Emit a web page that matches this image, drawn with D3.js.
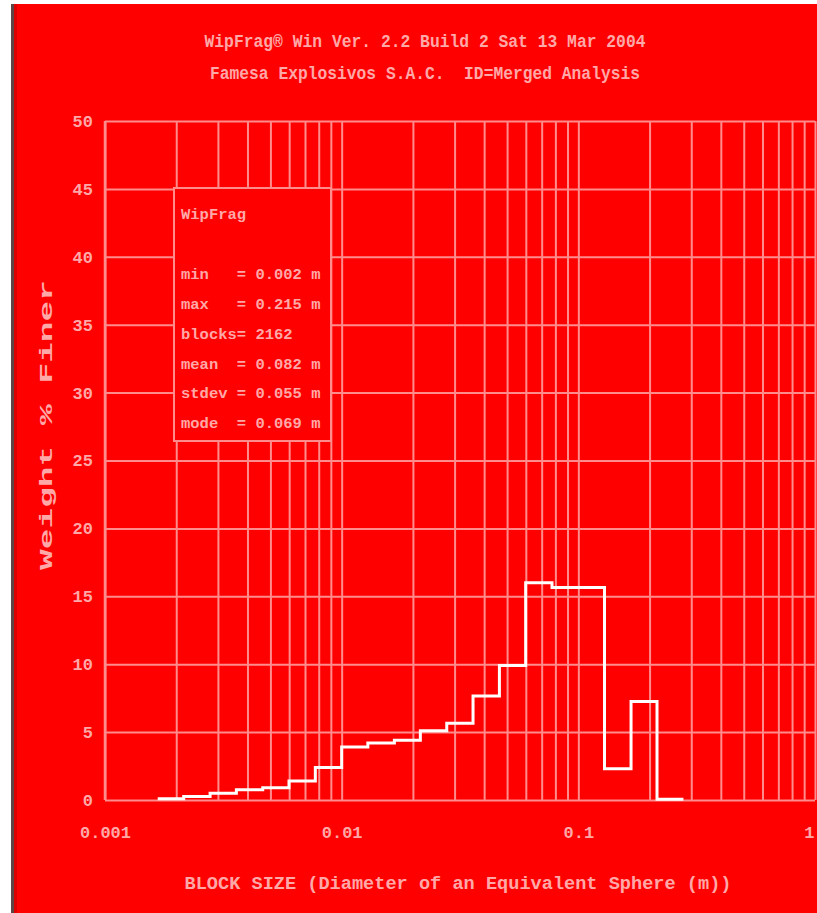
<!DOCTYPE html>
<html>
<head>
<meta charset="utf-8">
<script src="https://cdn.jsdelivr.net/npm/d3@7"></script>
<style>
  html, body { margin: 0; padding: 0; background: #fff; }
  #chart { width: 817px; height: 913px; }
  text { font-family: "Liberation Mono", "DejaVu Sans Mono", monospace; font-weight: bold; fill: #ffa8a8; white-space: pre; }
</style>
</head>
<body>
<div id="chart"></div>
<script>
// Size class edges (m) and % weight in each class
const binEdges = [0.00167, 0.00215, 0.00278, 0.00359, 0.00464, 0.00599, 0.00774, 0.01,
    0.0129, 0.0167, 0.0215, 0.0278, 0.0359, 0.0464, 0.0599, 0.0774, 0.1, 0.129, 0.167, 0.215, 0.278];
const binValues = [0.1, 0.25, 0.5, 0.75, 0.9, 1.4, 2.4, 3.9, 4.2, 4.4, 5.1, 5.65, 7.65, 9.9,
    16.0, 15.65, 15.65, 2.3, 7.25, 0.05];

const yTicks = [0, 5, 10, 15, 20, 25, 30, 35, 40, 45, 50];
const xLabels = [0.001, 0.01, 0.1, 1];

const titleLines = ["WipFrag® Win Ver. 2.2 Build 2 Sat 13 Mar 2004",
    "Famesa Explosivos S.A.C.  ID=Merged Analysis"];
const statsLines = ["WipFrag", "", "min   = 0.002 m", "max   = 0.215 m", "blocks= 2162",
    "mean  = 0.082 m", "stdev = 0.055 m", "mode  = 0.069 m"];

const W = 817, H = 913;
const margin = { top: 121, right: 2, bottom: 113, left: 105 };
const width = W - margin.left - margin.right;
const height = H - margin.top - margin.bottom;
const gridColor = "#ff8c8c";

const svg = d3.select("#chart").append("svg")
    .attr("width", W)
    .attr("height", H);

// red panel with the dark strip on its left
svg.append("rect").attr("x", 11).attr("y", 4).attr("width", W - 11).attr("height", H - 4).attr("fill", "#ff0000");
svg.append("rect").attr("x", 11).attr("y", 4).attr("width", 3).attr("height", H - 4).attr("fill", "#5e4646");
svg.append("rect").attr("x", 14).attr("y", 4).attr("width", 3).attr("height", H - 4).attr("fill", "#dc0000");

// titles
svg.selectAll(".title")
    .data(titleLines)
    .enter().append("text")
    .attr("class", "title")
    .attr("x", 425)
    .attr("y", (d, i) => 47 + i * 32)
    .attr("text-anchor", "middle")
    .attr("font-size", 18)
    .attr("textLength", (d, i) => i === 0 ? 441 : 430)
    .attr("lengthAdjust", "spacingAndGlyphs")
    .text(d => d);

const g = svg.append("g")
    .attr("transform", `translate(${margin.left}, ${margin.top})`);

const x = d3.scaleLog().domain([0.001, 1]).range([0, width]);
const y = d3.scaleLinear().domain([0, 50]).range([height, 0]);

// grid + y labels
const yAxis = g.append("g")
    .call(d3.axisLeft(y).tickValues(yTicks).tickSize(-width).tickPadding(12));
yAxis.select(".domain").remove();
yAxis.selectAll("line").attr("stroke", gridColor).attr("stroke-width", 2);
yAxis.selectAll("text").attr("font-size", 17).attr("fill", "#ffa8a8");

const xAxis = g.append("g")
    .attr("transform", `translate(0, ${height})`)
    .call(d3.axisBottom(x).tickValues(x.ticks()).tickSize(-height).tickPadding(26)
        .tickFormat(d => xLabels.includes(d) ? String(d) : ""));
xAxis.select(".domain").remove();
xAxis.selectAll("line").attr("stroke", gridColor).attr("stroke-width", 2);
xAxis.selectAll("text").attr("font-size", 17).attr("fill", "#ffa8a8")
    .filter(d => d === 1).attr("text-anchor", "end").attr("dx", -1);

// left frame line
g.append("line").attr("x1", 0).attr("x2", 0).attr("y1", 0).attr("y2", height)
    .attr("stroke", gridColor).attr("stroke-width", 2.5);

// axis titles
svg.append("text")
    .attr("transform", `translate(52, 425) rotate(-90)`)
    .attr("text-anchor", "middle")
    .attr("font-size", 18)
    .attr("textLength", 290)
    .attr("lengthAdjust", "spacingAndGlyphs")
    .text("Weight % Finer");

svg.append("text")
    .attr("x", 458)
    .attr("y", 889)
    .attr("text-anchor", "middle")
    .attr("font-size", 19)
    .attr("textLength", 547)
    .attr("lengthAdjust", "spacingAndGlyphs")
    .text("BLOCK SIZE (Diameter of an Equivalent Sphere (m))");

// statistics box
const box = g.append("g").attr("transform", `translate(${174 - margin.left}, ${188 - margin.top})`);
box.append("rect")
    .attr("width", 157).attr("height", 253)
    .attr("fill", "#ff0000")
    .attr("stroke", gridColor).attr("stroke-width", 2);
box.selectAll("text")
    .data(statsLines)
    .enter().append("text")
    .attr("x", 7)
    .attr("y", (d, i) => 31 + i * 29.9)
    .attr("font-size", 15.5)
    .text(d => d);

// histogram step line
const pts = binValues.map((v, i) => [binEdges[i], v]);
pts.push([binEdges[binEdges.length - 1], binValues[binValues.length - 1]]);
const line = d3.line()
    .x(d => x(d[0]))
    .y(d => y(d[1]))
    .curve(d3.curveStepAfter);
g.append("path")
    .datum(pts)
    .attr("d", line)
    .attr("fill", "none")
    .attr("stroke", "#ffffff")
    .attr("stroke-width", 3)
    .attr("stroke-linejoin", "miter");
</script>
</body>
</html>
